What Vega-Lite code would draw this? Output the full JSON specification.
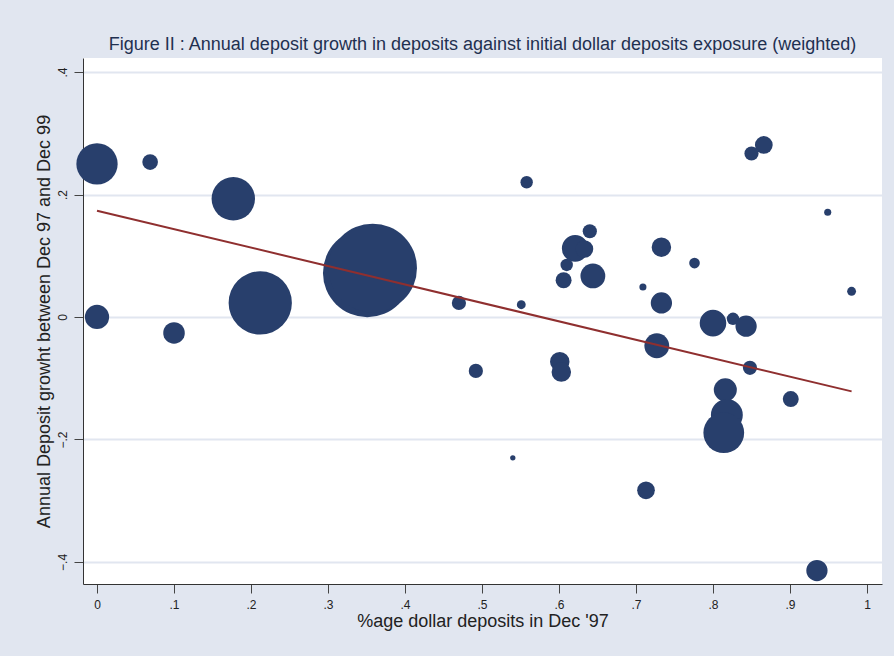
{
  "$schema": "https://vega.github.io/schema/vega-lite/v6.json",
  "width": 799,
  "height": 526,
  "autosize": {"type": "none"},
  "padding": {"left": 83, "top": 58, "right": 12, "bottom": 72},
  "background": "#e1e6f0",
  "title": {
    "text": "Figure II : Annual deposit growth in deposits against initial dollar deposits exposure (weighted)",
    "anchor": "middle",
    "frame": "group",
    "fontSize": 18,
    "font": "Liberation Sans",
    "fontWeight": "normal",
    "color": "#1f3050",
    "baseline": "alphabetic",
    "offset": -10
  },
  "config": {
    "view": {"fill": "white", "stroke": null},
    "font": "Liberation Sans"
  },
  "datasets": {
    "banks": [
      {"dollar_share": 0.0, "growth": 0.250, "weight": 5.43},
      {"dollar_share": 0.069, "growth": 0.253, "weight": 0.78},
      {"dollar_share": 0.177, "growth": 0.193, "weight": 6.0},
      {"dollar_share": 0.0, "growth": 0.0, "weight": 1.87},
      {"dollar_share": 0.1, "growth": -0.026, "weight": 1.48},
      {"dollar_share": 0.212, "growth": 0.023, "weight": 12.74},
      {"dollar_share": 0.351, "growth": 0.072, "weight": 25},
      {"dollar_share": 0.358, "growth": 0.080, "weight": 25},
      {"dollar_share": 0.470, "growth": 0.023, "weight": 0.64},
      {"dollar_share": 0.558, "growth": 0.220, "weight": 0.49},
      {"dollar_share": 0.551, "growth": 0.020, "weight": 0.25},
      {"dollar_share": 0.492, "growth": -0.088, "weight": 0.64},
      {"dollar_share": 0.601, "growth": -0.073, "weight": 1.21},
      {"dollar_share": 0.603, "growth": -0.090, "weight": 1.21},
      {"dollar_share": 0.640, "growth": 0.140, "weight": 0.64},
      {"dollar_share": 0.621, "growth": 0.112, "weight": 2.25},
      {"dollar_share": 0.633, "growth": 0.111, "weight": 1.0},
      {"dollar_share": 0.610, "growth": 0.085, "weight": 0.49},
      {"dollar_share": 0.606, "growth": 0.060, "weight": 0.81},
      {"dollar_share": 0.644, "growth": 0.067, "weight": 1.96},
      {"dollar_share": 0.866, "growth": 0.281, "weight": 1.0},
      {"dollar_share": 0.850, "growth": 0.267, "weight": 0.64},
      {"dollar_share": 0.949, "growth": 0.171, "weight": 0.16},
      {"dollar_share": 0.733, "growth": 0.114, "weight": 1.21},
      {"dollar_share": 0.776, "growth": 0.088, "weight": 0.36},
      {"dollar_share": 0.709, "growth": 0.049, "weight": 0.16},
      {"dollar_share": 0.733, "growth": 0.023, "weight": 1.44},
      {"dollar_share": 0.980, "growth": 0.042, "weight": 0.25},
      {"dollar_share": 0.800, "growth": -0.010, "weight": 2.25},
      {"dollar_share": 0.826, "growth": -0.003, "weight": 0.49},
      {"dollar_share": 0.843, "growth": -0.015, "weight": 1.44},
      {"dollar_share": 0.727, "growth": -0.047, "weight": 1.96},
      {"dollar_share": 0.848, "growth": -0.083, "weight": 0.64},
      {"dollar_share": 0.816, "growth": -0.119, "weight": 1.69},
      {"dollar_share": 0.901, "growth": -0.134, "weight": 0.81},
      {"dollar_share": 0.818, "growth": -0.160, "weight": 3.24},
      {"dollar_share": 0.814, "growth": -0.189, "weight": 5.29},
      {"dollar_share": 0.713, "growth": -0.283, "weight": 1.0},
      {"dollar_share": 0.935, "growth": -0.414, "weight": 1.44},
      {"dollar_share": 0.540, "growth": -0.230, "weight": 0.09}
    ],
    "fit": [
      {"dollar_share": 0.0, "growth": 0.1735},
      {"dollar_share": 0.98, "growth": -0.1215}
    ]
  },
  "layer": [
    {
      "data": {"name": "banks"},
      "mark": {"type": "circle", "color": "#283f6c", "opacity": 1},
      "encoding": {
        "x": {
          "field": "dollar_share",
          "type": "quantitative",
          "scale": {"domain": [-0.0182, 1.0195], "nice": false, "zero": false},
          "title": "%age dollar deposits in Dec '97",
          "axis": {
            "values": [0, 0.1, 0.2, 0.3, 0.4, 0.5, 0.6, 0.7, 0.8, 0.9, 1],
            "labelExpr": "replace(format(datum.value, '~g'), '0.', '.')",
            "grid": false,
            "domainColor": "#333333",
            "tickColor": "#444444",
            "tickSize": 9,
            "labelFontSize": 12,
            "labelColor": "#222222",
            "labelPadding": 6,
            "titleFontSize": 18,
            "titleFontWeight": "normal",
            "titleColor": "#222222",
            "titlePadding": 2,
            "labelFont": "Liberation Sans",
            "titleFont": "Liberation Sans"
          }
        },
        "y": {
          "field": "growth",
          "type": "quantitative",
          "scale": {"domain": [-0.436, 0.4229], "nice": false, "zero": false},
          "title": "Annual Deposit growht between Dec 97 and Dec 99",
          "axis": {
            "values": [-0.4, -0.2, 0, 0.2, 0.4],
            "labelExpr": "replace(format(datum.value, '~g'), '0.', '.')",
            "labelAngle": -90,
            "labelAlign": "center",
            "labelBaseline": "bottom",
            "grid": true,
            "gridColor": "#e1e6f0",
            "gridWidth": 2,
            "domainColor": "#333333",
            "tickColor": "#444444",
            "tickSize": 9,
            "labelFontSize": 12,
            "labelColor": "#222222",
            "labelPadding": 5,
            "titleFontSize": 18,
            "titleFontWeight": "normal",
            "titleColor": "#222222",
            "titlePadding": 3,
            "labelFont": "Liberation Sans",
            "titleFont": "Liberation Sans"
          }
        },
        "size": {
          "field": "weight",
          "type": "quantitative",
          "scale": {"domain": [0, 25], "range": [0, 7854], "zero": true},
          "legend": null
        }
      }
    },
    {
      "data": {"name": "fit"},
      "mark": {"type": "line", "color": "#8f2f2f", "strokeWidth": 2},
      "encoding": {
        "x": {"field": "dollar_share", "type": "quantitative"},
        "y": {"field": "growth", "type": "quantitative"}
      }
    }
  ]
}
